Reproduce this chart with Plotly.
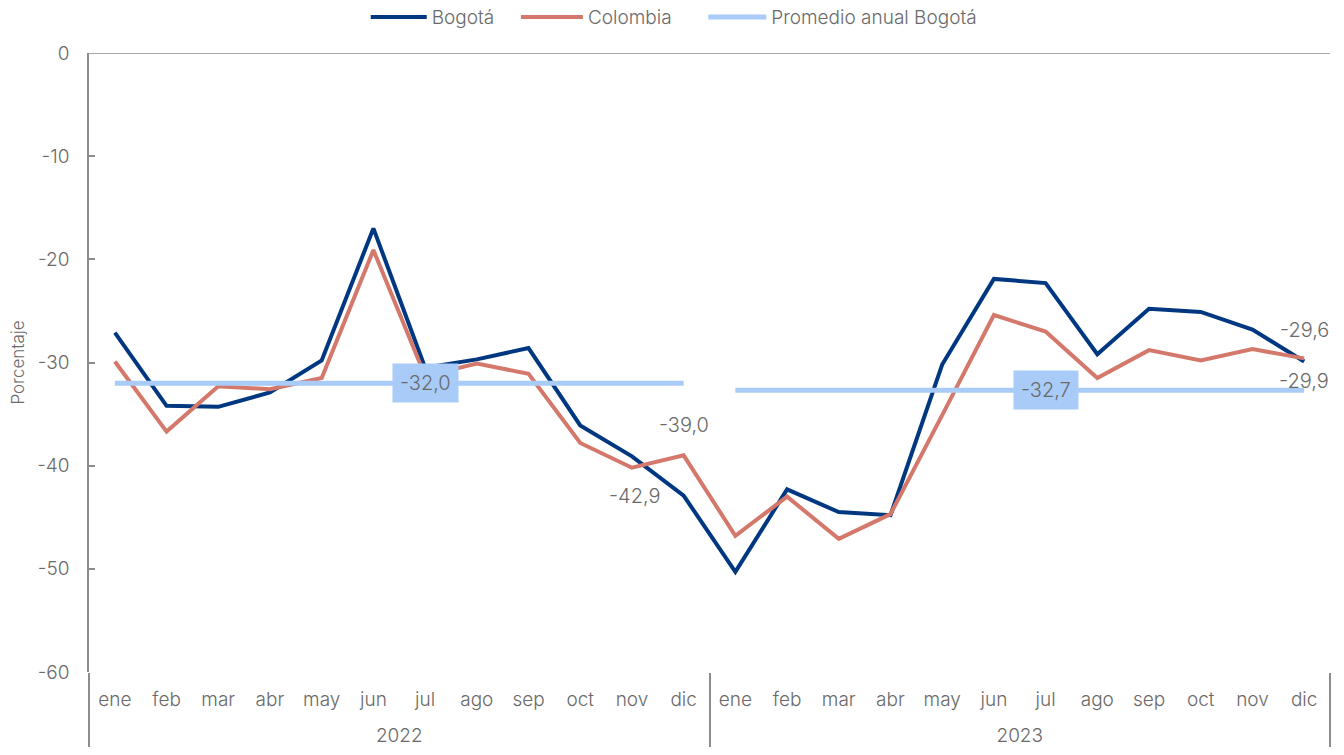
import plotly.graph_objects as go

# Monthly series, 2022-2023
years = ["2022", "2023"]
months = ["ene", "feb", "mar", "abr", "may", "jun",
          "jul", "ago", "sep", "oct", "nov", "dic"]

bogota = [-27.1, -34.2, -34.3, -32.9, -29.8, -17.0,
          -30.5, -29.7, -28.6, -36.1, -39.1, -42.9,
          -50.3, -42.3, -44.5, -44.8, -30.2, -21.9,
          -22.3, -29.2, -24.8, -25.1, -26.8, -29.9]
colombia = [-29.9, -36.7, -32.3, -32.6, -31.5, -19.1,
            -31.3, -30.1, -31.1, -37.8, -40.2, -39.0,
            -46.8, -43.0, -47.1, -44.7, -35.1, -25.4,
            -27.0, -31.5, -28.8, -29.8, -28.7, -29.6]
annual_avg = {"2022": -32.0, "2023": -32.7}

y_ticks = [0, -10, -20, -30, -40, -50, -60]

# Points carrying a value label: index -> (xshift, yshift, xanchor)
bogota_labels = {11: (-22, 0, "right"), 23: (0, -20, "center")}
colombia_labels = {11: (0, 30, "center"), 23: (0, 28, "center")}

NAVY = "#003781"
SALMON = "#d4786b"
LIGHT_BLUE = "#a9cbf8"
TEXT = "#6a6a6a"
AXIS = "#8c8c8c"
FONT = "Inter"
WEIGHT = 300
FS = 19


def fmt(v):
    return f"{v:.1f}".replace(".", ",")


def tfont(size=FS):
    return dict(size=size, color=TEXT, family=FONT, weight=WEIGHT)


def year_label(y):
    # year row sits one line lower than the month row
    return "<br>" + y


n = len(years) * len(months)
x_multi = [[year_label(y) for y in years for _ in months],
           [m for _ in years for m in months]]

fig = go.Figure()

fig.add_trace(go.Scatter(
    x=x_multi, y=bogota, name="Bogotá", mode="lines",
    line=dict(color=NAVY, width=4), legend="legend",
))
fig.add_trace(go.Scatter(
    x=x_multi, y=colombia, name="Colombia", mode="lines",
    line=dict(color=SALMON, width=4), legend="legend2",
))

# Annual average: one flat segment per year, broken between years
for i, y in enumerate(years):
    fig.add_trace(go.Scatter(
        x=[[year_label(y)] * len(months), months], y=[annual_avg[y]] * len(months),
        name="Promedio anual Bogotá", legendgroup="avg", showlegend=(i == 0),
        legend="legend3",
        mode="lines", line=dict(color=LIGHT_BLUE, width=5), hoverinfo="skip",
    ))
    # boxed value label at the "jul" position of each year
    fig.add_annotation(
        x=i * len(months) + months.index("jul"), y=annual_avg[y],
        xref="x", yref="y", text=fmt(annual_avg[y]), showarrow=False,
        bgcolor=LIGHT_BLUE, borderpad=7, font=tfont(20),
    )

# Value labels on selected points
for values, spec in ((bogota, bogota_labels), (colombia, colombia_labels)):
    for idx, (dx, dy, anchor) in spec.items():
        fig.add_annotation(
            x=idx, y=values[idx], xref="x", yref="y", text=fmt(values[idx]),
            showarrow=False, xshift=dx, yshift=dy, xanchor=anchor,
            font=tfont(20),
        )

# Horizontal axis line crossing at zero (top of the plot)
fig.add_shape(type="line", xref="paper", yref="y", x0=0, x1=1, y0=0, y1=0,
              line=dict(color=AXIS, width=1.5))


def legend_at(x, item_w):
    return dict(orientation="h", x=x, xanchor="left", y=1.058, yanchor="middle",
                font=tfont(), itemwidth=item_w, bgcolor="rgba(0,0,0,0)")


fig.update_layout(
    width=1344, height=755,
    margin=dict(l=89, r=14, t=53, b=83, autoexpand=False),
    paper_bgcolor="white", plot_bgcolor="white",
    font=tfont(),
    showlegend=True,
    legend=legend_at(0.223, 56),
    legend2=legend_at(0.344, 62),
    legend3=legend_at(0.495, 58),
    xaxis=dict(
        type="multicategory", range=[-0.5, n - 0.5], automargin=False,
        showgrid=False, showline=False, ticks="",
        showdividers=True, dividercolor=AXIS, dividerwidth=1.5,
        ticklabelstandoff=14,
        tickfont=tfont(),
    ),
    yaxis=dict(
        range=[-60, 0], tickvals=y_ticks, ticktext=[str(v) for v in y_ticks],
        automargin=False,
        showgrid=False, zeroline=False, showline=True, linecolor=AXIS, linewidth=1.5,
        ticks="inside", ticklen=6, tickcolor=AXIS, tickwidth=1.5,
        ticklabelstandoff=14,
        tickfont=tfont(),
        title=dict(text="Porcentaje", standoff=8, font=tfont(17)),
    ),
)

fig.write_html("out.html")
